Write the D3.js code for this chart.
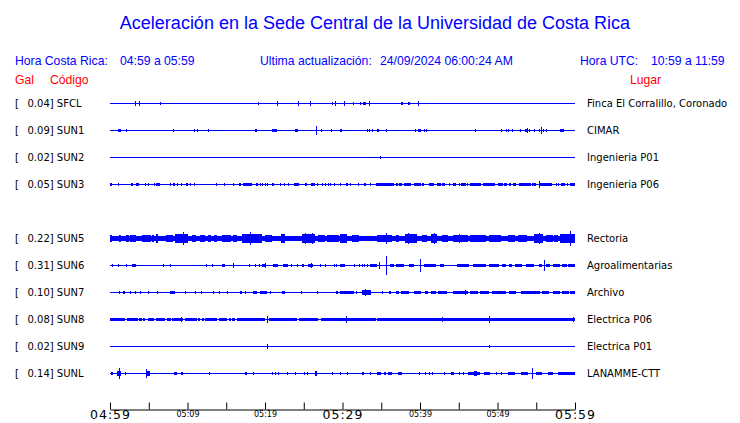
<!DOCTYPE html>
<html><head><meta charset="utf-8">
<script src="https://cdn.jsdelivr.net/npm/d3@7"></script>
<style>
html,body{margin:0;padding:0;background:#fff;}
svg{display:block;}
</style>
</head><body>
<svg id="c" width="740" height="423"></svg>
<script>
// ---------- data ----------
const title = "Aceleración en la Sede Central de la Universidad de Costa Rica";
const headerLabels = ["Hora Costa Rica:", "04:59 a 05:59", "Ultima actualización:", "24/09/2024 06:00:24 AM", "Hora UTC:", "10:59 a 11:59"];
const columnLabels = ["Gal", "Código", "Lugar"];

// station slots (SUN4 has no data and stays empty)
const codes  = ["SFCL", "SUN1", "SUN2", "SUN3", "SUN4", "SUN5", "SUN6", "SUN7", "SUN8", "SUN9", "SUNL"];
const peaks  = [0.04, 0.09, 0.02, 0.05, null, 0.22, 0.31, 0.10, 0.08, 0.02, 0.14];
const places = ["Finca El Corralillo, Coronado", "CIMAR", "Ingenieria P01", "Ingenieria P06", null,
                "Rectoria", "Agroalimentarias", "Archivo", "Electrica P06", "Electrica P01", "LANAMME-CTT"];

// minutes after 04:59
const tickMinutes = [0, 5, 10, 15, 20, 25, 30, 35, 40, 45, 50, 55, 60];
const tickLabels  = ["04:59", "", "05:09", "", "05:19", "", "05:29", "", "05:39", "", "05:49", "", "05:59"];
const majorTicks  = ["04:59", "05:29", "05:59"];

// waveform envelopes: [start minute, end minute, relative amplitude]
const sfcl = [[3.2,3.2,0.22],[3.8,3.8,0.22],[6.4,6.4,0.1],[19.1,19.1,0.1],[21.6,21.6,0.22],[24.2,24.2,0.22],[25.8,25.8,0.22],
  [28.7,28.7,0.1],[29.0,29.0,0.22],[30.2,30.2,0.22],[31.3,31.3,0.1],[32.2,32.2,0.1],[32.6,33.0,0.15],[33.4,33.4,0.22],
  [37.5,37.8,0.15],[38.4,38.7,0.15],[39.7,39.7,0.22]];
const sun1 = [[1.0,1.4,0.15],[2.0,2.0,0.12],[8.1,8.1,0.12],[10.8,10.8,0.12],[11.2,11.2,0.06],[12.7,12.7,0.06],[18.7,18.9,0.15],
  [20.9,21.6,0.15],[23.9,24.3,0.15],[26.6,26.6,0.4],[27.2,27.2,0.06],[28.5,28.5,0.12],[29.7,30.0,0.15],[33.1,33.1,0.12],
  [33.4,33.4,0.12],[33.8,33.8,0.06],[34.4,34.6,0.15],[35.6,35.6,0.12],[39.4,39.4,0.06],[39.8,40.2,0.15],[40.5,40.5,0.12],
  [40.8,40.8,0.12],[47.1,47.1,0.06],[50.5,50.5,0.12],[51.1,51.1,0.12],[51.4,51.4,0.12],[51.9,51.9,0.06],[52.9,52.9,0.12],
  [53.6,53.8,0.15],[53.8,53.8,0.22],[54.1,54.1,0.06],[54.7,54.7,0.12],[55.3,55.3,0.12],[55.6,55.6,0.38],[55.9,55.9,0.12],
  [56.2,56.2,0.06],[58.0,58.5,0.15]];
const sun2 = [[34.8,34.8,0.08]];
const sun3 = [[0,0.2,0.15],[1.0,1.0,0.15],[2.7,3.0,0.15],[3.3,3.7,0.15],[4.5,4.5,0.15],[4.9,5.0,0.15],[5.7,5.7,0.1],[5.9,6.4,0.15],
  [7.7,7.8,0.15],[8.1,8.3,0.15],[8.7,8.7,0.15],[9.1,9.1,0.1],[9.8,10.0,0.15],[10.3,10.3,0.1],[10.8,10.9,0.15],[13.7,13.7,0.1],
  [14.7,14.7,0.15],[15.9,15.9,0.1],[16.7,17.0,0.15],[17.2,18.3,0.15],[18.8,19.1,0.15],[19.4,19.4,0.15],[19.6,19.6,0.15],
  [20.0,20.0,0.15],[20.3,20.3,0.1],[20.9,21.1,0.15],[21.9,21.9,0.1],[22.5,22.5,0.15],[23.0,23.0,0.15],[23.7,24.4,0.15],
  [25.1,25.3,0.15],[25.9,26.4,0.15],[26.7,26.7,0.1],[27.4,27.4,0.15],[27.8,27.8,0.15],[28.1,28.1,0.15],[28.4,28.4,0.15],
  [28.9,28.9,0.15],[29.7,29.7,0.15],[30.4,30.6,0.15],[31.0,31.0,0.15],[32.0,32.0,0.15],[32.8,33.0,0.15],[33.5,33.5,0.15],
  [34.3,36.6,0.15],[36.9,37.1,0.15],[37.3,37.7,0.15],[37.9,38.8,0.15],[39.2,40.1,0.15],[40.3,40.6,0.15],[41.1,41.8,0.15],
  [42.2,42.7,0.15],[42.9,43.3,0.15],[43.7,43.7,0.1],[44.2,44.6,0.15],[45.0,45.0,0.15],[45.3,45.9,0.15],[46.1,46.1,0.15],
  [46.4,47.8,0.15],[48.1,49.6,0.15],[50.0,50.6,0.15],[50.9,51.3,0.15],[51.5,51.8,0.15],[52.0,52.4,0.15],[52.8,54.3,0.15],
  [54.5,55.0,0.15],[55.4,55.4,0.28],[55.5,57.1,0.15],[57.5,57.5,0.15],[57.8,57.8,0.15],[58.2,58.7,0.15],[59.0,59.0,0.15],
  [59.3,60,0.15]];
const sun5 = [[0,60,0.17],[0,0.2,0.33],[1.1,1.4,0.28],[2.0,2.4,0.28],[2.6,3.4,0.33],[4.1,5.2,0.33],[5.4,5.7,0.28],[5.9,6.2,0.4],
  [7.2,7.8,0.28],[7.9,8.2,0.28],[8.4,10.1,0.4],[9.4,9.4,0.67],[10.6,11.1,0.28],[11.6,12.3,0.28],[12.7,13.1,0.33],
  [13.4,13.8,0.33],[14.4,15.5,0.28],[15.9,16.4,0.28],[17.0,19.6,0.4],[18.0,18.0,0.67],[20.0,20.9,0.33],[22.1,22.6,0.45],
  [24.8,26.5,0.4],[25.2,25.2,0.55],[26.1,26.1,0.5],[26.9,27.8,0.3],[28.0,29.5,0.33],[29.7,30.6,0.42],[31.2,32.1,0.28],
  [32.5,33.8,0.25],[34.5,36.4,0.38],[35.6,35.6,0.55],[36.9,37.3,0.28],[38.1,39.7,0.42],[38.4,38.4,0.5],[40.3,40.9,0.3],
  [41.4,42.2,0.42],[41.8,41.8,0.5],[42.9,43.7,0.3],[44.2,46.1,0.38],[45.0,45.0,0.45],[46.5,48.5,0.33],[48.9,50.4,0.33],
  [51.3,52.2,0.28],[52.6,53.7,0.35],[54.7,55.8,0.42],[55.4,55.4,0.55],[56.2,57.1,0.3],[57.3,57.8,0.33],[58.1,60,0.45],
  [59.3,59.3,0.83]];
const sun6 = [[0.3,0.3,0.1],[1.0,1.0,0.1],[2.0,2.0,0.1],[2.8,3.3,0.13],[6.9,6.9,0.1],[7.8,7.8,0.1],[12.4,12.4,0.1],[13.2,13.2,0.1],
  [14.5,14.9,0.13],[15.9,15.9,0.22],[17.9,17.9,0.06],[18.7,18.7,0.1],[19.2,19.2,0.1],[19.6,20.0,0.15],[20.0,20.0,0.22],
  [21.0,21.6,0.13],[22.3,23.0,0.13],[23.4,23.4,0.1],[24.1,24.1,0.1],[24.8,25.1,0.13],[25.6,26.3,0.15],[25.9,25.9,0.22],
  [27.1,27.1,0.1],[27.8,27.8,0.1],[28.9,28.9,0.1],[29.2,29.2,0.1],[29.7,30.3,0.13],[31.5,31.5,0.1],[32.1,32.1,0.1],
  [32.5,32.5,0.1],[32.8,32.8,0.1],[33.1,33.1,0.1],[33.6,34.5,0.15],[34.7,34.7,0.3],[35.6,35.6,1.0],[36.1,36.6,0.15],
  [36.9,37.9,0.1],[38.6,39.2,0.13],[40.0,40.0,0.65],[40.5,42.0,0.1],[42.6,43.1,0.13],[44.8,46.3,0.15],[46.8,48.5,0.15],
  [48.9,50.2,0.12],[50.6,51.1,0.12],[51.5,51.9,0.12],[52.3,53.2,0.12],[53.7,54.7,0.13],[55.4,55.8,0.15],[56.0,56.0,0.5],
  [56.2,56.7,0.12],[57.1,58.0,0.12],[58.3,58.9,0.12],[59.1,60,0.12]];
const sun7 = [[1.1,1.1,0.12],[1.7,2.0,0.13],[2.6,2.6,0.12],[3.2,3.2,0.12],[3.9,3.9,0.12],[4.9,4.9,0.12],[6.1,6.1,0.12],
  [7.8,8.4,0.15],[9.7,9.7,0.08],[11.0,11.0,0.08],[11.8,11.8,0.12],[13.3,13.3,0.12],[14.0,14.0,0.08],[15.1,15.1,0.12],
  [16.8,17.0,0.13],[17.4,17.4,0.12],[18.5,19.0,0.1],[19.4,20.3,0.13],[20.7,20.7,0.12],[22.2,22.6,0.15],[24.7,24.7,0.08],
  [26.7,26.7,0.12],[29.1,29.4,0.13],[29.7,31.5,0.15],[31.7,31.7,0.12],[32.5,33.6,0.25],[32.9,32.9,0.33],[35.1,35.1,0.1],
  [36.0,36.2,0.12],[36.9,37.3,0.13],[37.6,38.6,0.15],[39.2,40.1,0.13],[40.6,41.0,0.13],[41.4,42.0,0.13],[42.3,43.5,0.13],
  [44.2,46.1,0.15],[45.8,45.8,0.22],[46.5,47.5,0.13],[47.8,48.9,0.15],[49.3,51.1,0.15],[51.5,52.4,0.13],[53.0,55.4,0.15],
  [55.8,56.7,0.13],[57.1,58.0,0.13],[58.3,59.2,0.15],[59.4,60,0.15]];
const sun8 = [[0,1.9,0.15],[2.2,3.6,0.15],[3.7,4.1,0.15],[4.3,4.6,0.15],[4.9,5.7,0.15],[5.9,7.0,0.15],[7.3,7.8,0.15],
  [8.0,9.4,0.15],[9.1,9.1,0.22],[9.7,11.2,0.15],[11.4,11.6,0.15],[11.9,12.1,0.15],[12.3,13.8,0.15],[14.1,15.1,0.15],
  [15.4,15.6,0.15],[15.8,16.2,0.15],[16.4,20.0,0.15],[20.3,20.3,0.33],[20.5,24.1,0.15],[24.4,26.9,0.15],[27.2,30.4,0.15],
  [30.4,30.4,0.28],[30.6,34.3,0.15],[34.5,60,0.15],[42.9,42.9,0.22],[48.9,48.9,0.28],[59.7,59.7,0.22]];
const sun9 = [[20.3,20.3,0.17],[48.9,48.9,0.08]];
const sunl = [[0.1,0.3,0.15],[0.9,1.4,0.22],[1.2,1.2,0.55],[1.9,1.9,0.1],[4.6,5.1,0.22],[4.7,4.7,0.45],[8.2,8.6,0.15],
  [9.2,9.4,0.15],[12.8,12.8,0.06],[17.4,17.6,0.15],[18.4,18.4,0.12],[20.9,20.9,0.12],[21.3,21.3,0.12],[21.7,21.7,0.12],
  [22.9,22.9,0.12],[23.9,23.9,0.1],[25.0,25.0,0.12],[25.4,25.4,0.12],[26.5,26.8,0.22],[28.7,28.7,0.06],[29.7,29.7,0.1],
  [30.6,30.6,0.06],[32.5,32.8,0.15],[33.5,33.5,0.08],[34.5,35.0,0.13],[35.3,35.6,0.13],[35.9,36.4,0.13],[37.1,37.6,0.15],
  [39.9,39.9,0.12],[40.6,40.6,0.12],[41.1,41.1,0.12],[41.6,41.6,0.12],[43.1,43.1,0.1],[44.0,44.4,0.15],[45.0,45.0,0.12],
  [45.5,45.5,0.12],[46.2,47.7,0.15],[47.0,47.4,0.22],[48.3,49.1,0.15],[49.8,49.8,0.12],[50.4,50.4,0.1],[51.3,52.2,0.12],
  [53.0,53.9,0.13],[54.5,54.5,0.55],[55.0,55.8,0.15],[56.5,57.1,0.13],[57.8,60,0.15]];
const traces = [sfcl, sun1, sun2, sun3, null, sun5, sun6, sun7, sun8, sun9, sunl];

// ---------- drawing ----------
const svg = d3.select("#c");
const blue = "#0000ff", red = "#ff0000";
const sans = "'Liberation Sans', Arial, sans-serif";
const dv = "'DejaVu Sans', sans-serif";

const x = d3.scaleLinear().domain([0, 60]).range([110, 575]);
const y = d3.scalePoint().domain(codes).range([103, 373]);
const amp = d3.scaleLinear().domain([0, 1]).range([0, 9]);

svg.append("text").attr("x", 375).attr("y", 29).attr("text-anchor", "middle")
  .attr("font-family", sans).attr("font-size", 18).attr("fill", blue).text(title);

const headerX = [15, 120, 260, 380, 580, 651];
svg.selectAll("text.hdr").data(headerLabels).join("text").attr("class", "hdr")
  .attr("x", (d, i) => headerX[i]).attr("y", 65)
  .attr("font-family", sans).attr("font-size", 12.2).attr("fill", blue).text(d => d);

const colX = [15, 50, 630];
svg.selectAll("text.col").data(columnLabels).join("text").attr("class", "col")
  .attr("x", (d, i) => colX[i]).attr("y", 84)
  .attr("font-family", sans).attr("font-size", 12.2).attr("fill", red).text(d => d);

const rows = codes.map((c, i) => ({code: c, peak: peaks[i], place: places[i], segs: traces[i]}))
  .filter(r => r.segs);

const g = svg.append("g");
rows.forEach(r => {
  const yy = y(r.code);
  g.append("text").attr("x", 15).attr("y", yy + 4).attr("font-family", dv).attr("font-size", 10)
    .attr("fill", "#000").text("[");
  g.append("text").attr("x", 27.5).attr("y", yy + 4).attr("font-family", dv).attr("font-size", 10)
    .attr("fill", "#000").text(r.peak.toFixed(2) + "] " + r.code);
  g.append("text").attr("x", 587).attr("y", yy + 4).attr("font-family", dv).attr("font-size", 10)
    .attr("fill", "#000").text(r.place);
  g.append("rect").attr("x", x(0)).attr("y", yy).attr("width", x(60) - x(0)).attr("height", 1).attr("fill", blue);
  g.selectAll(null).data(r.segs).join("rect")
    .attr("x", d => Math.round(x(d[0])))
    .attr("width", d => Math.max(1, Math.round(x(d[1]) - x(d[0]))))
    .attr("y", d => yy - Math.round(amp(d[2])))
    .attr("height", d => 2 * Math.round(amp(d[2])) + 1)
    .attr("fill", blue);
});

// time axis
const axis = d3.axisBottom(x).tickValues(tickMinutes).tickSizeInner(-7).tickSizeOuter(0).tickPadding(3)
  .tickFormat((d, i) => tickLabels[i]);
const ax = svg.append("g").attr("transform", "translate(0,409.5)").call(axis);
ax.select(".domain").attr("stroke", "#000");
ax.selectAll(".tick line").attr("stroke", "#000");
ax.selectAll(".tick text").attr("fill", "#000").attr("font-family", dv)
  .attr("dy", null)
  .attr("y", (d, i) => majorTicks.includes(tickLabels[i]) ? 9.5 : 7)
  .attr("font-size", (d, i) => majorTicks.includes(tickLabels[i]) ? 12.5 : 8)
  .attr("letter-spacing", (d, i) => majorTicks.includes(tickLabels[i]) ? 1 : 0);
</script>
</body></html>
